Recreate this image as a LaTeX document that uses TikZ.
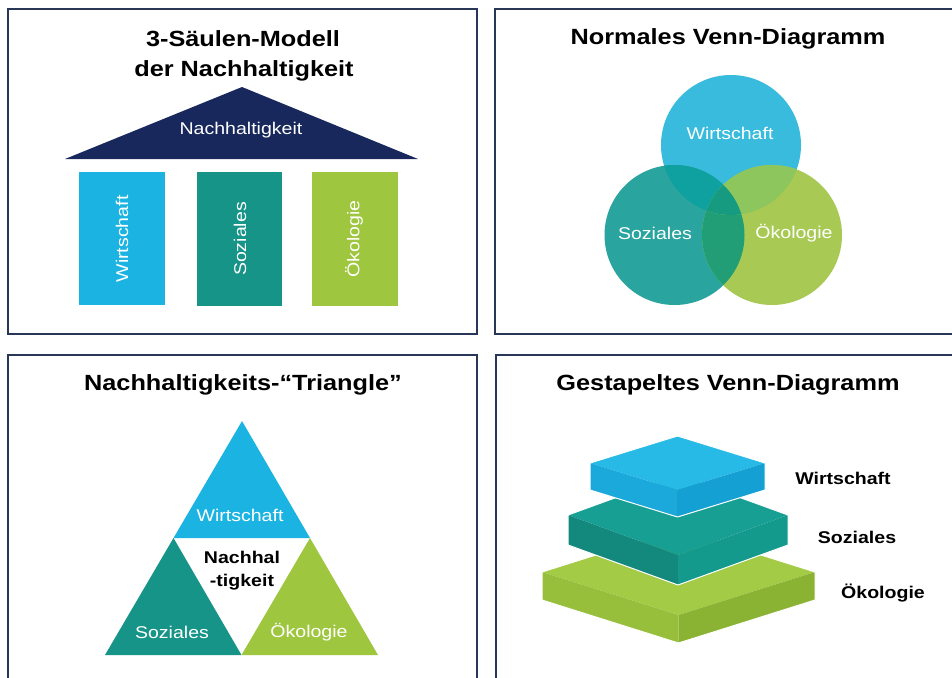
\documentclass[tikz,border=0pt]{standalone}
\usepackage{fontspec}
\setmainfont{Liberation Sans}[FakeStretch=1.15]

% panel frames
\definecolor{frameblue}{RGB}{40,54,88}
% column / roof colours
\definecolor{roofnavy}{RGB}{24,40,92}
\definecolor{cyanW}{RGB}{27,180,226}
\definecolor{tealS}{RGB}{22,148,136}
\definecolor{greenO}{RGB}{158,198,62}
% Venn colours
\definecolor{vW}{RGB}{56,187,221}
\definecolor{vS}{RGB}{42,164,158}
\definecolor{vO}{RGB}{168,202,84}
\definecolor{vWS}{RGB}{15,160,160}
\definecolor{vWO}{RGB}{140,198,92}
\definecolor{vSO}{RGB}{34,158,118}
\definecolor{vWSO}{RGB}{22,155,128}
% stacked slabs: top face, left face, right face
\definecolor{cT}{RGB}{40,186,230}
\definecolor{cL}{RGB}{27,169,220}
\definecolor{cR}{RGB}{21,160,212}
\definecolor{tT}{RGB}{23,159,148}
\definecolor{tL}{RGB}{19,137,126}
\definecolor{tR}{RGB}{20,154,140}
\definecolor{gT}{RGB}{164,203,70}
\definecolor{gL}{RGB}{151,191,59}
\definecolor{gR}{RGB}{139,179,51}

% one isometric slab: cx, y of side corners, half width, depth offset, thickness, three colours
\newcommand\stackslab[8]{%
  \fill[#6] (#1-#3,#2) -- (#1,#2-#4) -- (#1+#3,#2) -- (#1,#2+#4) -- cycle;
  \fill[#7] (#1-#3,#2) -- (#1,#2+#4) -- (#1,#2+#4+#5) -- (#1-#3,#2+#5) -- cycle;
  \fill[#8] (#1,#2+#4) -- (#1+#3,#2) -- (#1+#3,#2+#5) -- (#1,#2+#4+#5) -- cycle;
  \draw[white,line width=1pt,line join=round]
    (#1-#3,#2) -- (#1,#2-#4) -- (#1+#3,#2) -- (#1+#3,#2+#5) -- (#1,#2+#4+#5) -- (#1-#3,#2+#5) -- cycle;
}

\begin{document}
\begin{tikzpicture}[x=1pt,y=-1pt,
  frame/.style={draw=frameblue,line width=2pt},
  title/.style={font=\bfseries\fontsize{22}{26}\selectfont,anchor=base,inner sep=0pt},
  lab/.style={font=\fontsize{17}{20}\selectfont,text=white,inner sep=0pt},
  blab/.style={font=\bfseries\fontsize{17}{23}\selectfont,text=black,inner sep=0pt,align=center}]
\useasboundingbox (0,0) rectangle (952,677);
\clip (0,0) rectangle (952,677);
\fill[white] (0,0) rectangle (952,677);

% ---------- frames ----------
\draw[frame] (8,9) rectangle (477,334);
\draw[frame] (495,9) rectangle (970,334);
\draw[frame] (8,355) rectangle (477,700);
\draw[frame] (496,355) rectangle (970,700);

% ---------- 3-Säulen-Modell ----------
\node[title] (t1a) at (243,47) {3-Säulen-Modell};
\node[title] (t1b) at (244,76) {der Nachhaltigkeit};
\fill[roofnavy] (65,159) -- (242,87) -- (418,159) -- cycle;
\node[lab] (roof) at (241,130) {Nachhaltigkeit};
\fill[cyanW]  (79,172) rectangle (165,305);
\fill[tealS]  (197,172) rectangle (282,306);
\fill[greenO] (312,172) rectangle (398,306);
\node[lab,rotate=90] (p1) at (122,239) {Wirtschaft};
\node[lab,rotate=90] (p2) at (240,239) {Soziales};
\node[lab,rotate=90] (p3) at (354,239) {Ökologie};

% ---------- Normales Venn-Diagramm ----------
\node[title] (t2) at (728,45) {Normales Venn-Diagramm};
\fill[vW] (731,145) circle (70);
\fill[vS] (674.5,235) circle (70);
\fill[vO] (772,235) circle (70);
\begin{scope}
  \clip (674.5,235) circle (70);
  \fill[vSO] (772,235) circle (70);
\end{scope}
\begin{scope}
  \clip (731,145) circle (70);
  \fill[vWS] (674.5,235) circle (70);
  \fill[vWO] (772,235) circle (70);
  \clip (674.5,235) circle (70);
  \fill[vWSO] (772,235) circle (70);
\end{scope}
\node[lab] (vw) at (730,133) {Wirtschaft};
\node[lab] (vs) at (655,233) {Soziales};
\node[lab] (vo) at (794,233) {Ökologie};

% ---------- Nachhaltigkeits-Triangle ----------
\node[title] (t3) at (243,390) {Nachhaltigkeits-“Triangle”};
\fill[cyanW]  (242,421) -- (173.5,538) -- (310,538) -- cycle;
\fill[tealS]  (173.5,538) -- (105,655) -- (241.5,655) -- cycle;
\fill[greenO] (310,538) -- (241.5,655) -- (378,655) -- cycle;
\node[lab] (tw) at (240,515) {Wirtschaft};
\node[lab] (ts) at (172,632) {Soziales};
\node[lab] (to) at (309,632) {Ökologie};
\node[blab] (tn) at (242,571) {Nachhal\\-tigkeit};

% ---------- Gestapeltes Venn-Diagramm ----------
\node[title] (t4) at (728,390) {Gestapeltes Venn-Diagramm};
\stackslab{678.5}{572}{136.5}{43}{28}{gT}{gL}{gR}
\stackslab{678}{515}{110}{40}{30}{tT}{tL}{tR}
\stackslab{677.5}{463}{87.5}{27}{27}{cT}{cL}{cR}
\node[blab,anchor=center] (sw) at (843,478) {Wirtschaft};
\node[blab,anchor=center] (ss) at (857,537) {Soziales};
\node[blab,anchor=center] (so) at (883,593) {Ökologie};
\end{tikzpicture}
\end{document}
